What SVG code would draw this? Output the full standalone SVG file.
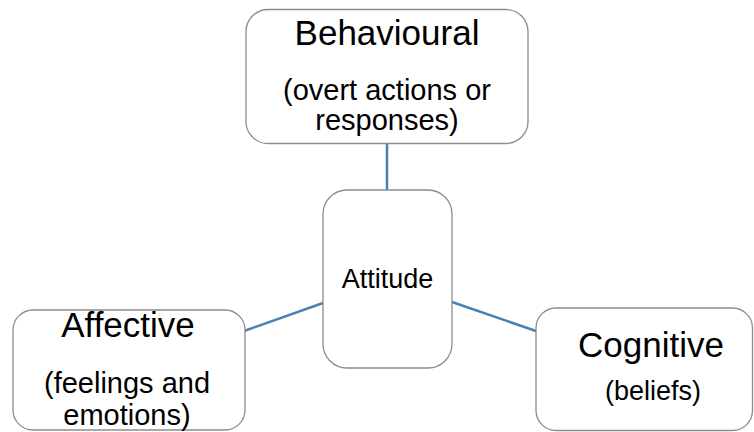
<svg xmlns="http://www.w3.org/2000/svg" width="754" height="432" viewBox="0 0 754 432">
<style>
.box{fill:#ffffff;stroke:#8c8c8c;stroke-width:1.3}
.conn{stroke:#4a7fb6;stroke-width:2.5;fill:none}
text{font-family:"Liberation Sans",Arial,sans-serif;fill:#000000;text-anchor:middle}
.t{font-size:35px}
.s{font-size:29px}
</style>
<rect width="754" height="432" fill="#ffffff"/>
<g id="connectors">
<line class="conn" x1="387" y1="143" x2="387" y2="190"/>
<line class="conn" x1="323" y1="303" x2="244" y2="331"/>
<line class="conn" x1="452" y1="302" x2="536" y2="331"/>
</g>
<g id="behavioural">
<rect class="box" x="246" y="9.5" width="282" height="134" rx="22"/>
<text class="t" x="387" y="45">Behavioural</text>
<text class="s" x="387" y="100">(overt actions or</text>
<text class="s" x="387" y="130">responses)</text>
</g>
<g id="attitude">
<rect class="box" x="323" y="190" width="129" height="178" rx="24"/>
<text x="387.5" y="288" style="font-size:27px">Attitude</text>
</g>
<g id="affective">
<rect class="box" x="13" y="310" width="232" height="120" rx="20"/>
<text class="t" x="128" y="337">Affective</text>
<text class="s" x="127" y="393">(feelings and</text>
<text class="s" x="127" y="425">emotions)</text>
</g>
<g id="cognitive">
<rect class="box" x="536" y="308" width="216.5" height="122.5" rx="20"/>
<text class="t" x="651" y="357">Cognitive</text>
<text x="653" y="400" style="font-size:27px">(beliefs)</text>
</g>
</svg>
